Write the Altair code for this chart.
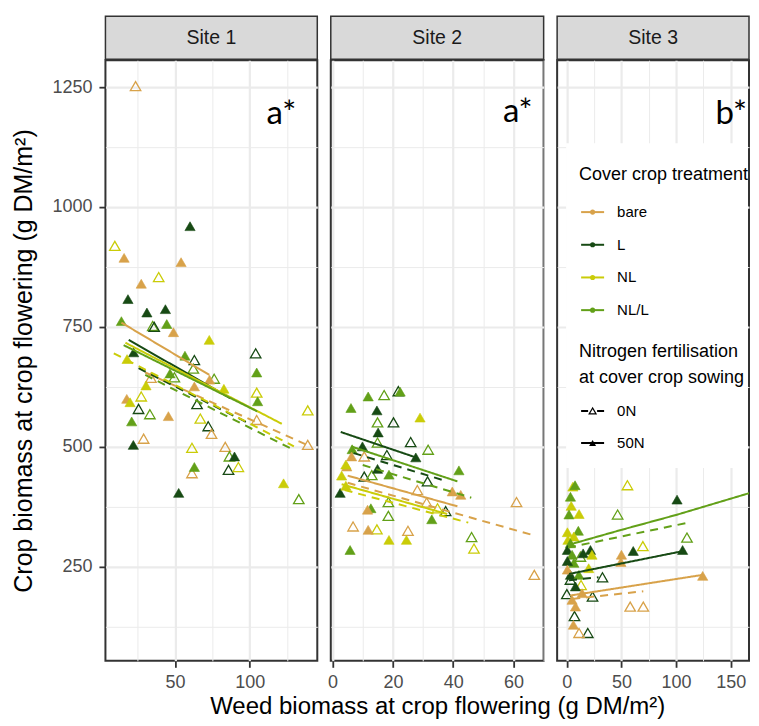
import altair as alt
import pandas as pd

FONT = "Liberation Sans"
TRT = ["bare", "L", "NL", "NL/L"]
TRT_COLORS = ["#D8A24A", "#174A14", "#CACC08", "#62A018"]
NITRO = ["0N", "50N"]
SITES = ["Site 1", "Site 2", "Site 3"]
TAGS = ["a*", "a*", "b*"]
XTITLE = "Weed biomass at crop flowering (g DM/m²)"
YTITLE = "Crop biomass at crop flowering (g DM/m²)"
LEG_TITLE_1 = "Cover crop treatment"
LEG_TITLE_2 = ["Nitrogen fertilisation", "at cover crop sowing"]

# ---------------- Site 1 points ----------------
s1_x = [23.5, 60, 9.6, 15.8, 54, 27.3, 39, 18.4, 31.1, 43.5,
        14, 35, 36, 44.4, 48.9, 72.9, 104, 22.2, 17.8, 56.6,
        62.9, 62.2, 46.6, 49.5, 33.8, 30.5, 76.2, 82.7, 73.1, 62.9,
        104.7, 104.7, 105.3, 104.7, 138.9, 138.9, 17.6, 19.8, 27.3, 25.5,
        33.1, 64.7, 72.2, 20.9, 45.5, 66.9, 74.4, 22, 28.9, 61.3,
        83.6, 86.4, 89.8, 85.8, 92.4, 62.9, 61.3, 52.4, 122.7, 132.9]
s1_y = [1252, 960, 919, 894, 885, 840, 854, 808, 780, 787,
        762, 752, 750, 756, 739, 723, 695, 697, 683, 690,
        681, 663, 653, 645, 644, 628, 642, 621, 640, 626,
        655, 613, 595, 556, 576, 504, 600, 593, 605, 579,
        568, 589, 543, 553, 564, 559, 527, 504, 517, 498,
        500, 480, 480, 452, 458, 458, 445, 404, 424, 391]
s1_t = ["bare", "L", "NL", "bare", "bare", "bare", "NL", "L", "L", "L",
        "NL/L", "NL/L", "L", "NL/L", "bare", "NL", "L", "L", "NL", "NL/L",
        "L", "NL/L", "NL/L", "NL/L", "bare", "NL", "NL/L", "NL", "bare", "bare",
        "NL/L", "NL", "NL/L", "bare", "NL", "bare", "bare", "NL", "NL", "L",
        "NL/L", "L", "L", "NL/L", "bare", "NL", "bare", "L", "bare", "NL",
        "bare", "NL/L", "L", "L", "NL", "NL/L", "bare", "L", "NL", "NL/L"]
s1_n = [0, 50, 0, 50, 50, 50, 0, 50, 50, 50,
        50, 0, 0, 50, 50, 50, 0, 50, 50, 50,
        0, 0, 50, 0, 0, 50, 0, 50, 50, 50,
        50, 0, 50, 0, 0, 0, 50, 50, 0, 0,
        0, 0, 0, 50, 50, 0, 0, 50, 0, 0,
        0, 0, 50, 0, 0, 50, 0, 50, 50, 0]

# ---------------- Site 2 points ----------------
s2_x = [6.1, 11.8, 17.1, 21.8, 22.4, 14.7, 29, 14.9, 20.2, 15.1,
        14.9, 25.9, 31.7, 6.5, 9.9, 27.6, 10.5, 6.3, 18, 4.7,
        4.4, 14.9, 10.5, 13, 18.7, 31.5, 37.5, 2.5, 4.4, 28.1,
        42.5, 39.7, 41.9, 31.2, 34.8, 18.5, 18.5, 12.7, 11.6, 32.9,
        6.8, 11.8, 14.7, 25, 18.7, 24.5, 5.8, 46.1, 46.9, 61,
        66.9, 3.0]
s2_y = [581, 605, 608, 616, 615, 576, 561, 551, 551, 530,
        509, 510, 494, 495, 501, 478, 480, 480, 483, 459,
        463, 454, 438, 441, 442, 428, 366, 404, 419, 410,
        400, 407, 451, 384, 372, 385, 356, 372, 369, 349,
        334, 327, 328, 325, 306, 306, 285, 312, 288, 385,
        233, 440]
s2_t = ["NL/L", "NL/L", "NL/L", "L", "NL/L", "L", "NL", "NL/L", "L", "L",
        "NL/L", "L", "NL/L", "NL/L", "L", "L", "bare", "bare", "L", "bare",
        "NL", "L", "L", "NL/L", "NL/L", "L", "L", "L", "NL", "bare",
        "bare", "bare", "NL/L", "bare", "NL", "NL/L", "NL/L", "NL/L", "bare", "NL/L",
        "bare", "bare", "NL", "bare", "NL", "NL", "NL/L", "NL/L", "NL", "bare",
        "bare", "NL"]
s2_n = [50, 50, 0, 0, 50, 50, 50, 0, 0, 50,
        0, 0, 0, 50, 50, 50, 0, 50, 0, 50,
        50, 50, 0, 0, 50, 0, 0, 50, 50, 0,
        50, 50, 50, 0, 0, 0, 0, 50, 50, 50,
        0, 50, 0, 0, 50, 50, 50, 0, 0, 0,
        0, 50]

# ---------------- Site 3 points ----------------
s3_x = [5.5, 7.5, 3.3, 4, 2, 11.2, 55.5, 46.5, 100.9, 179.5,
        110, 0.5, 10.5, 69.6, 60.8, 106, 50, 49.5, 32.6, 124.4,
        58, 70, 23.5, 19.2, 11.2, 7, 6, 0, 6.4, 1,
        3.3, 0.5, 4.8, 21.6, 14.9, 23, 12.4, 6.4, 0.5, 3.3,
        0.5, 3.3, 13, 11, 20, 7.9, 14, 4.8, 7.9]
s3_y = [417, 420, 396, 377, 359, 360, 420, 359, 390, 341,
        311, 322, 325, 293, 283, 285, 275, 260, 228, 231,
        167, 167, 188, 112, 112, 147, 129, 193, 313, 306,
        299, 285, 275, 285, 278, 275, 271, 258, 262, 233,
        244, 223, 212, 233, 247, 209, 195, 181, 167]
s3_t = ["NL", "NL/L", "NL/L", "NL", "NL/L", "NL", "NL", "NL/L", "L", "NL/L",
        "NL/L", "NL", "NL/L", "NL", "L", "L", "bare", "bare", "L", "bare",
        "bare", "bare", "L", "L", "bare", "L", "bare", "L", "NL", "NL",
        "NL/L", "L", "NL/L", "L", "L", "NL", "NL/L", "NL/L", "L", "L",
        "bare", "L", "NL", "NL/L", "NL", "L", "bare", "bare", "bare"]
s3_n = [50, 50, 50, 50, 50, 50, 0, 0, 50, 50,
        0, 50, 50, 0, 50, 50, 50, 50, 0, 50,
        0, 0, 0, 0, 0, 0, 50, 0, 50, 50,
        50, 50, 50, 50, 50, 50, 0, 50, 50, 50,
        50, 0, 0, 50, 50, 50, 50, 50, 50]

# ---------------- fitted lines (vertices) ----------------
l1_x = [14, 72.9, 18.9, 87.3, 16.7, 121.5, 15.5, 105,
        30, 138.5, 25.5, 99.5, 8.9, 129.6, 30, 127.3]
l1_y = [759, 650, 723, 601, 717, 548, 712, 574,
        655, 504, 664, 549, 695, 501, 650, 497]
l1_t = ["bare", "bare", "L", "L", "NL", "NL", "NL/L", "NL/L",
        "bare", "bare", "L", "L", "NL", "NL", "NL/L", "NL/L"]
l1_n = [50] * 8 + [0] * 8

l2_x = [2.7, 27.6, 6.1, 41.4, 5, 41.4, 3, 38,
        7, 37, 10, 46, 5, 67, 4, 45]
l2_y = [531, 478, 501, 428, 440, 376, 422, 360,
        487, 430, 462, 394, 425, 315, 410, 342]
l2_t = ["L", "L", "NL/L", "NL/L", "bare", "bare", "NL", "NL",
        "L", "L", "NL/L", "NL/L", "bare", "bare", "NL", "NL"]
l2_n = [50] * 8 + [0] * 8

l3_x = [2, 50, 100, 179.5, 2, 107, 3, 124,
        1, 109, 2, 29, 5, 70]
l3_y = [296, 327, 358, 412, 235, 283, 190, 233,
        290, 341, 222, 228, 183, 199]
l3_t = ["NL/L", "NL/L", "NL/L", "NL/L", "L", "L", "bare", "bare",
        "NL/L", "NL/L", "L", "L", "bare", "bare"]
l3_n = [50, 50, 50, 50, 50, 50, 50, 50, 0, 0, 0, 0, 0, 0]

# ---------------- axis ticks ----------------
Y_MAJOR = [250, 500, 750, 1000, 1250]
Y_MINOR = [125, 375, 625, 875, 1125]
X_MAJOR = [[50, 100], [0, 20, 40, 60], [0, 50, 100, 150]]
X_MINOR = [[25, 75, 125], [10, 30, 50, 70], [25, 75, 125]]

# ---------------- layout / style ----------------
W = [212, 213, 192]
H = 601
XDOM = [[3.3, 145.3], [-0.6, 70.0], [-8.9, 166.8]]
YDOM = [54, 1306]
TAG_POS = [(191, 64), (202, 62), (190, 64)]


def frame(xs, ys, ts, ns):
    assert len(xs) == len(ys) == len(ts) == len(ns), (len(xs), len(ys), len(ts), len(ns))
    return pd.DataFrame({"x": xs, "y": ys, "t": ts,
                         "n": [f"{v}N" for v in ns]})


PTS = [frame(s1_x, s1_y, s1_t, s1_n), frame(s2_x, s2_y, s2_t, s2_n),
       frame(s3_x, s3_y, s3_t, s3_n)]
LNS = [frame(l1_x, l1_y, l1_t, l1_n), frame(l2_x, l2_y, l2_t, l2_n),
       frame(l3_x, l3_y, l3_t, l3_n)]


def cond(test, a, b):
    return {"condition": {"test": test, "value": a}, "value": b}


def one(**kw):
    return pd.DataFrame({k: [v] for k, v in kw.items()})


def legend_layers(width):
    """Key drawn inside the Site 3 panel (positions in panel pixels)."""
    out = []
    out.append(alt.Chart(one(k=0)).mark_rect(fill="white").encode(
        x=alt.value(9), x2=alt.value(width - 1),
        y=alt.value(83), y2=alt.value(408)))
    out.append(alt.Chart(one(s=LEG_TITLE_1)).mark_text(
        font=FONT, fontSize=18, align="left", baseline="middle",
        color="black").encode(x=alt.value(22), y=alt.value(115), text="s:N"))
    for k, (t, c) in enumerate(zip(TRT, TRT_COLORS)):
        yk = 152 + 32.7 * k
        d = one(t=t)
        out.append(alt.Chart(d).mark_rule(color=c, strokeWidth=2).encode(
            x=alt.value(24), x2=alt.value(47), y=alt.value(yk)))
        out.append(alt.Chart(d).mark_point(
            shape="circle", filled=True, size=26, color=c, opacity=1).encode(
            x=alt.value(35.5), y=alt.value(yk)))
        out.append(alt.Chart(d).mark_text(
            font=FONT, fontSize=15, align="left", baseline="middle",
            color="black").encode(x=alt.value(60), y=alt.value(yk), text="t:N"))
    for j, line in enumerate(LEG_TITLE_2):
        out.append(alt.Chart(one(s=line)).mark_text(
            font=FONT, fontSize=18, align="left", baseline="middle",
            color="black").encode(x=alt.value(22), y=alt.value(292 + 26 * j),
                                  text="s:N"))
    for j, nv in enumerate(NITRO):
        yj = 351 + 32 * j
        d = one(n=nv)
        dash = [7, 9] if nv == "0N" else [1, 0]
        out.append(alt.Chart(d).mark_rule(color="black", strokeWidth=2,
                                          strokeDash=dash).encode(
            x=alt.value(24), x2=alt.value(47), y=alt.value(yj)))
        out.append(alt.Chart(d).mark_point(
            shape="triangle-up", filled=(nv == "50N"), size=48,
            strokeWidth=1.2, color="black", opacity=1).encode(
            x=alt.value(35.5), y=alt.value(yj)))
        out.append(alt.Chart(d).mark_text(
            font=FONT, fontSize=15, align="left", baseline="middle",
            color="black").encode(x=alt.value(60), y=alt.value(yj), text="n:N"))
    return out


def panel(i):
    xs = alt.Scale(domain=XDOM[i], nice=False, zero=False)
    ys = alt.Scale(domain=YDOM, nice=False, zero=False)
    tscale = alt.Scale(domain=TRT, range=TRT_COLORS)
    dscale = alt.Scale(domain=NITRO, range=[[8, 6], [1, 0]])

    xt = f"indexof({X_MAJOR[i]}, datum.value) >= 0"
    xkw = dict(values=sorted(X_MAJOR[i] + X_MINOR[i]), format="d",
               labelExpr=f"{xt} ? datum.label : ''",
               gridWidth=cond(xt, 2.2, 1.0), tickOpacity=cond(xt, 1, 0))
    if i == 1:
        x_axis = alt.Axis(title=XTITLE, **xkw)
    else:
        x_axis = alt.Axis(title=None, **xkw)

    yt = f"indexof({Y_MAJOR}, datum.value) >= 0"
    yvals = sorted(Y_MAJOR + Y_MINOR)
    if i == 0:
        y_axis = alt.Axis(values=yvals, format="d", title=YTITLE,
                          labelExpr=f"{yt} ? datum.label : ''",
                          gridWidth=cond(yt, 2.2, 1.0),
                          tickOpacity=cond(yt, 1, 0))
    else:
        y_axis = alt.Axis(values=yvals, labels=False, ticks=False, title=None,
                          gridWidth=cond(yt, 2.2, 1.0))

    X = alt.X("x:Q", scale=xs, axis=x_axis)
    Y = alt.Y("y:Q", scale=ys, axis=y_axis)

    pdf = PTS[i]
    ldf = LNS[i]
    open_pts = alt.Chart(pdf).transform_filter(alt.datum.n == "0N").mark_point(
        shape="triangle-up", filled=False, size=110, strokeWidth=1.3,
        opacity=1, clip=True).encode(
        x=X, y=Y, stroke=alt.Stroke("t:N", scale=tscale, legend=None))
    full_pts = alt.Chart(pdf).transform_filter(alt.datum.n == "50N").mark_point(
        shape="triangle-up", filled=True, size=105, strokeWidth=0.6,
        opacity=1, clip=True).encode(
        x=X, y=Y, fill=alt.Fill("t:N", scale=tscale, legend=None),
        stroke=alt.Stroke("t:N", scale=tscale, legend=None))
    lines = alt.Chart(ldf).mark_line(strokeWidth=2, clip=True).encode(
        x=X, y=Y, stroke=alt.Stroke("t:N", scale=tscale, legend=None),
        strokeDash=alt.StrokeDash("n:N", scale=dscale, legend=None))

    sdf = one(site=SITES[i], tag=TAGS[i])
    strip = alt.Chart(sdf).mark_rect(fill="#D9D9D9", stroke="#333333",
                                     strokeWidth=1.5).encode(
        x=alt.value(0), x2=alt.value(W[i]), y=alt.value(-44), y2=alt.value(-1))
    strip_txt = alt.Chart(sdf).mark_text(font=FONT, fontSize=19.5,
                                         color="#1A1A1A").encode(
        x=alt.value(W[i] / 2), y=alt.value(-22), text="site:N")
    tag = alt.Chart(sdf).mark_text(font="Lato", fontSize=33, align="right",
                                   baseline="alphabetic", color="black").encode(
        x=alt.value(TAG_POS[i][0]), y=alt.value(TAG_POS[i][1]), text="tag:N")

    layers = [open_pts, full_pts, lines, strip, strip_txt, tag]
    if i == 2:
        layers += legend_layers(W[i])
    return alt.layer(*layers).properties(width=W[i], height=H)


chart = alt.hconcat(panel(0), panel(1), panel(2), spacing=13.5,
                    bounds="flush").resolve_scale(
    x="independent", y="independent", stroke="independent",
    fill="independent", strokeDash="independent").properties(
    padding={"left": 2.5, "top": 6, "right": 0, "bottom": 0}
).configure_view(stroke="#333333", strokeWidth=2).configure_axis(
    domain=False, gridColor="#EBEBEB", tickColor="#333333", tickWidth=1.8,
    tickSize=6.5, labelFont=FONT, labelFontSize=18, labelColor="#4D4D4D",
    labelPadding=7, titleFont=FONT, titleFontSize=25, titleFontWeight="normal",
    titleColor="black", titlePadding=15
).configure_axisX(labelPadding=6, titlePadding=3, titleFontSize=24)

chart.save("out.html", embed_options={"renderer": "svg", "actions": False})
